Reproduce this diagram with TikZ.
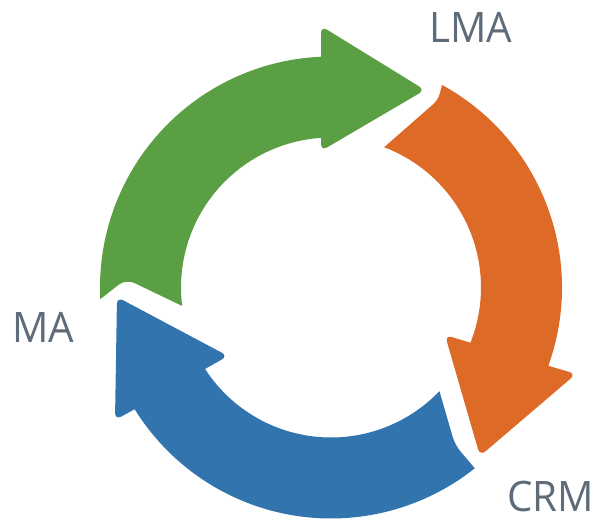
\documentclass[tikz,border=0pt]{standalone}
\usepackage{fontspec}
\setmainfont{Open Sans}
\definecolor{cgreen}{RGB}{91,159,69}
\definecolor{corange}{RGB}{221,106,38}
\definecolor{cblue}{RGB}{50,116,174}
\definecolor{ctext}{RGB}{94,107,121}
\tikzset{lbl/.style={text=ctext,inner sep=0pt,font=\fontsize{42}{42}\selectfont}}
\begin{document}
\begin{tikzpicture}[x=1pt,y=1pt]
\useasboundingbox (0,0) rectangle (595,522);
\begin{scope}[shift={(331,234.5)}]
% green arrow
\fill[cgreen] (182.9:231pt) arc[start angle=182.9,end angle=92.48,radius=231pt]
  [rounded corners=7pt] -- (-10,261.5) -- (94,197.5) -- (-10,136.5)
  [sharp corners] -- (93.82:150pt) arc[start angle=93.82,end angle=187.06,radius=150pt]
  [rounded corners=9pt] -- (-205,8.5) [sharp corners] -- cycle;
% orange arrow
\fill[corange] (61.27:231pt) arc[start angle=61.27,end angle=-19.8,radius=231pt]
  [rounded corners=7pt] -- (245,-86.5) -- (149,-168.5) -- (114,-47.5)
  [sharp corners] -- (-21.6:150pt) arc[start angle=-21.6,end angle=69.25,radius=150pt]
  [rounded corners=6pt] -- (107,187.5) [sharp corners] -- cycle;
% blue arrow
\fill[cblue] (-51.5:231pt) arc[start angle=-51.5,end angle=-148.2,radius=231pt]
  [rounded corners=7pt] -- (-216,-132.5) -- (-214,-9.5) -- (-103,-68.5)
  [sharp corners] -- (-147.1:150pt) arc[start angle=-147.1,end angle=-43.7,radius=150pt]
  [rounded corners=8pt] -- (124,-157.5) [sharp corners] -- cycle;
\end{scope}
\node[lbl,anchor=base west] (lma) at (429,479) {\scalebox{0.96}[1]{LMA}};
\node[lbl,anchor=base west] (ma) at (12,179) {\scalebox{0.96}[1]{MA}};
\node[lbl,anchor=base west] (crm) at (507,10) {\scalebox{0.96}[1]{CRM}};
\end{tikzpicture}
\end{document}
